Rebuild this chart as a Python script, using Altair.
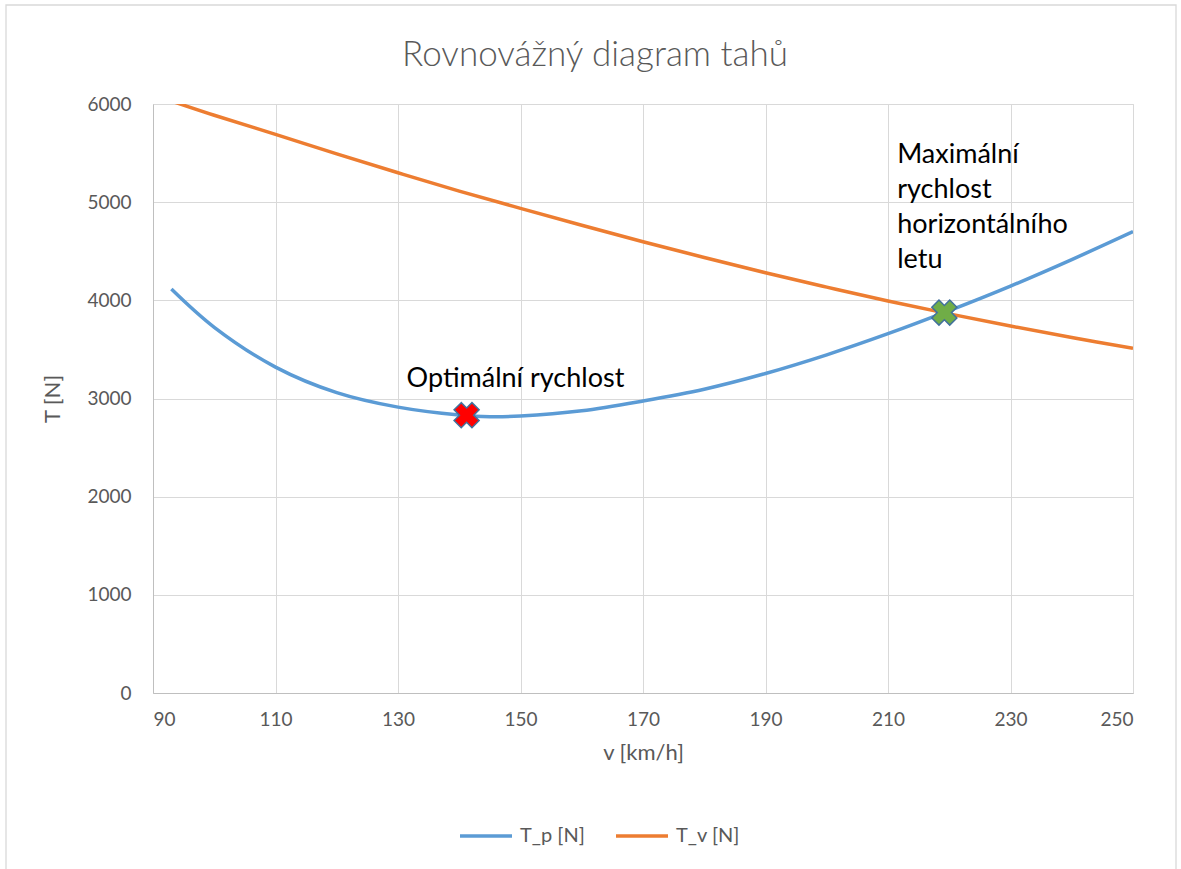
import altair as alt
import pandas as pd

# Required thrust T_p and available thrust T_v versus airspeed
v_p = [93, 100, 110, 120, 130, 140, 145, 150, 160, 170, 180, 190, 200, 210, 220, 230, 240, 250]
t_p = [4115, 3725, 3320, 3060, 2912, 2832, 2815, 2822, 2875, 2975, 3095, 3255, 3445, 3660, 3895, 4145, 4415, 4700]

v_v = [93, 100, 110, 120, 130, 140, 150, 160, 170, 180, 190, 200, 210, 220, 230, 240, 250]
t_v = [6030, 5885, 5691, 5492, 5300, 5113, 4937, 4765, 4597, 4436, 4281, 4135, 3993, 3862, 3738, 3621, 3511]

series_names = ["T_p [N]", "T_v [N]"]
series_colors = ["#5b9bd5", "#ed7d31"]

x_ticks = [90, 110, 130, 150, 170, 190, 210, 230, 250]
y_ticks = [0, 1000, 2000, 3000, 4000, 5000, 6000]

# Highlighted operating points
marker_v = [141.2, 219.2]
marker_t = [2830, 3875]
marker_fill = ["#ff0000", "#70ad47"]

# Annotation texts
note_v = [131.4, 211.5]
note_t = [3120, 5396]
note_text = ["Optimální rychlost", "Maximální\nrychlost\nhorizontálního\nletu"]

chart_title = "Rovnovážný diagram tahů"

FONT = "Lato"
GREY = "#595959"

curves = pd.DataFrame(
    {"v": v_p + v_v,
     "T": t_p + t_v,
     "series": [series_names[0]] * len(v_p) + [series_names[1]] * len(v_v)}
)
markers = pd.DataFrame({"v": marker_v, "T": marker_t, "fill": marker_fill})
notes = pd.DataFrame({"v": note_v, "T": note_t, "label": note_text})

x_enc = alt.X(
    "v:Q",
    scale=alt.Scale(domain=[90, 250], nice=False, zero=False),
    axis=alt.Axis(values=x_ticks, title="v [km/h]", grid=True, tickSize=0,
                  labelPadding=17, titlePadding=13, labelFontSize=19,
                  titleFontSize=22, labelColor=GREY, titleColor=GREY,
                  titleFontWeight="normal", labelFont=FONT, titleFont=FONT,
                  domainColor="#bfbfbf", gridColor="#d9d9d9"),
)
y_enc = alt.Y(
    "T:Q",
    scale=alt.Scale(domain=[0, 6000], nice=False),
    axis=alt.Axis(values=y_ticks, format="d", title="T [N]", grid=True,
                  tickSize=0, labelPadding=22, titlePadding=22,
                  labelFontSize=19, titleFontSize=22, labelColor=GREY,
                  titleColor=GREY, titleFontWeight="normal", labelFont=FONT,
                  titleFont=FONT, domainColor="#bfbfbf", gridColor="#d9d9d9"),
)

lines = alt.Chart(curves).mark_line(
    interpolate="catmull-rom", strokeWidth=3.5, clip=True
).encode(
    x=x_enc,
    y=y_enc,
    color=alt.Color(
        "series:N",
        scale=alt.Scale(domain=series_names, range=series_colors),
        legend=alt.Legend(
            orient="none", legendX=305, legendY=704, direction="horizontal",
            title=None, symbolType="stroke", symbolSize=2704,
            symbolStrokeWidth=3.5, labelFontSize=20, labelFont=FONT,
            labelColor=GREY, columnPadding=24, labelOffset=6,
        ),
    ),
)

points = alt.Chart(markers).mark_point(
    shape="cross", angle=45, size=640, filled=True, opacity=1,
    stroke="#41719c", strokeWidth=1.5,
).encode(
    x="v:Q",
    y="T:Q",
    fill=alt.Fill("fill:N", scale=None),
)

labels = alt.Chart(notes).mark_text(
    align="left", baseline="alphabetic", fontSize=27, font=FONT,
    color="#000000", lineBreak="\n", lineHeight=35,
).encode(
    x="v:Q",
    y="T:Q",
    text="label:N",
)

# Chart title, centred over the whole figure
title = alt.Chart(alt.Data(values=[{"t": chart_title}])).mark_text(
    align="center", baseline="middle", fontSize=35, font=FONT,
    fontWeight=300, color=GREY
).encode(
    x=alt.value(442), y=alt.value(-49), text="t:N"
)

# Outer border around the figure
frame = alt.Chart(alt.Data(values=[{}])).mark_rect(
    fill="transparent", stroke="#d9d9d9", strokeWidth=1.3
).encode(
    x=alt.value(-147), x2=alt.value(1023), y=alt.value(-99), y2=alt.value(790)
)

chart = alt.layer(frame, title, lines, points, labels).properties(
    width=980,
    height=589,
    padding={"left": 153, "top": 104, "right": 48, "bottom": 176},
    autosize=alt.AutoSizeParams(type="none"),
).configure_view(stroke="transparent").configure(background="white")

chart.save("out.html", embed_options={"renderer": "svg", "actions": False})
